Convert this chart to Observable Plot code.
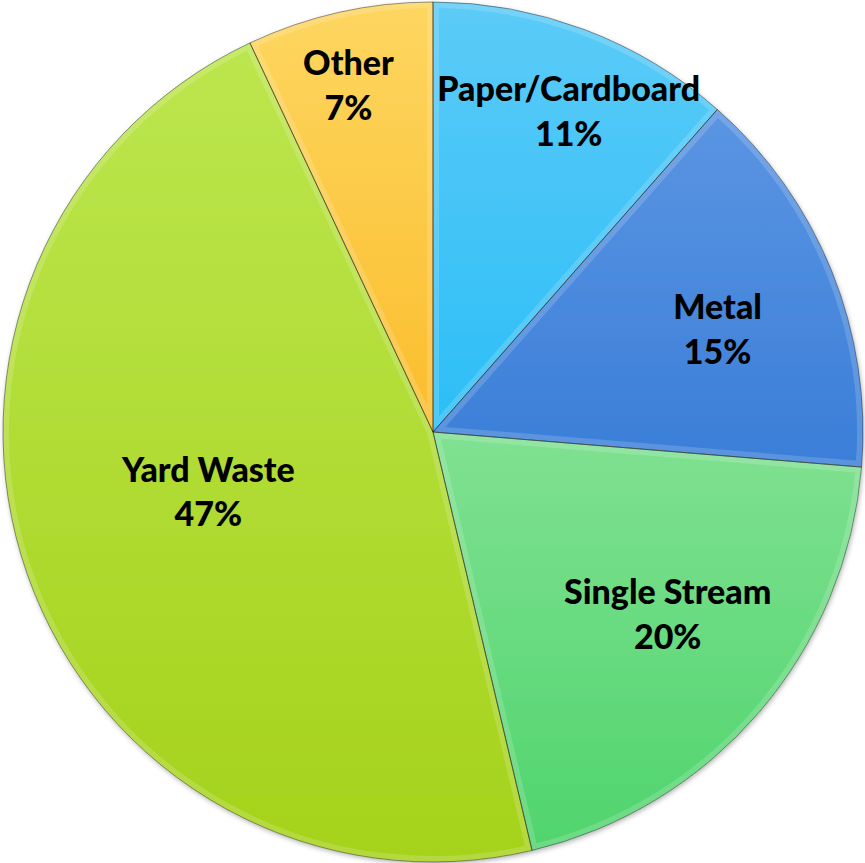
<!DOCTYPE html>
<html>
<head>
<meta charset="utf-8">
<script src="https://cdn.jsdelivr.net/npm/d3@7"></script>
<script src="https://cdn.jsdelivr.net/npm/@observablehq/plot@0.6"></script>
<style>
  html, body { margin: 0; padding: 0; background: #ffffff; }
  #chart { width: 865px; height: 863px; }
</style>
</head>
<body>
<div id="chart"></div>
<script>
// ---- Data ----
const categories = ["Paper/Cardboard", "Metal", "Single Stream", "Yard Waste", "Other"];
const shares = [11.5, 14.8, 20.0, 46.7, 7.0];
const percentLabels = ["11%", "15%", "20%", "47%", "7%"];

// ---- Styles / label layout ----
const topColors = ["#5ccbf7", "#5b95e2", "#80e192", "#bce64e", "#fdd660"];
const bottomColors = ["#2bbef7", "#3a7ed8", "#50d46d", "#a5d21b", "#fbbd2c"];
const labelRadius = [0.808, 0.702, 0.691, 0.542, 0.829];
const labelAngleShift = [2.2, 2.2, -2.7, 4.3, -1.2]; // degrees

const rows = categories.map((c, i) => ({category: c, share: shares[i], pct: percentLabels[i]}));
const arcs = d3.pie().sort(null).value(d => d.share)(rows);
const labelRows = arcs.map((a, i) => {
  const mid = (a.startAngle + a.endAngle) / 2 + labelAngleShift[i] * Math.PI / 180;
  return {
    text: a.data.category + "\n" + a.data.pct,
    x: labelRadius[i] * Math.sin(mid),
    y: labelRadius[i] * Math.cos(mid)
  };
});

function slices(index, scales) {
  const {x, y} = scales;
  const cx = x(0), cy = y(0), R = x(1) - x(0);
  const g = d3.create("svg:g");
  const defs = g.append("defs");
  arcs.forEach((a, i) => {
    const lg = defs.append("linearGradient").attr("id", "grad" + i)
      .attr("x1", 0).attr("y1", 0).attr("x2", 0).attr("y2", 1);
    lg.append("stop").attr("offset", "0%").attr("stop-color", topColors[i]);
    lg.append("stop").attr("offset", "100%").attr("stop-color", bottomColors[i]);
  });
  const f = defs.append("filter").attr("id", "shadow")
    .attr("x", "-5%").attr("y", "-5%").attr("width", "110%").attr("height", "110%");
  f.append("feDropShadow").attr("dx", 1).attr("dy", 2).attr("stdDeviation", 2.5)
    .attr("flood-color", "#000").attr("flood-opacity", 0.3);
  const arc = d3.arc().innerRadius(0).outerRadius(R);
  arcs.forEach((a, i) => {
    defs.append("clipPath").attr("id", "clip" + i).append("path").attr("d", arc(a));
  });
  const pie = g.append("g").attr("transform", `translate(${cx},${cy})`);
  pie.append("g").attr("filter", "url(#shadow)")
    .selectAll("path").data(arcs).join("path")
    .attr("d", arc)
    .attr("fill", (d, i) => `url(#grad${i})`);
  // bevel highlight along inner edges
  pie.append("g").selectAll("path").data(arcs).join("path")
    .attr("d", arc)
    .attr("clip-path", (d, i) => `url(#clip${i})`)
    .attr("fill", "none")
    .attr("stroke", "#ffffff")
    .attr("stroke-opacity", 0.16)
    .attr("stroke-width", 12)
    .attr("stroke-linejoin", "round");
  pie.append("g").selectAll("path").data(arcs).join("path")
    .attr("d", arc)
    .attr("fill", "none")
    .attr("stroke", "#1a1a1a")
    .attr("stroke-opacity", 0.45)
    .attr("stroke-width", 1);
  return g.node();
}

const chart = Plot.plot({
  width: 865,
  height: 863,
  margin: 0,
  style: {background: "#ffffff", overflow: "visible"},
  x: {domain: [-1, 1], range: [3, 863], axis: null},
  y: {domain: [-1, 1], range: [862, 2], axis: null},
  marks: [
    slices,
    Plot.text(labelRows, {
      x: "x", y: "y", text: "text", dy: -3,
      fontSize: 34, fontWeight: 900, fontFamily: "Lato",
      lineHeight: 1.32, fill: "#000000"
    })
  ]
});
document.getElementById("chart").append(chart);
</script>
</body>
</html>
